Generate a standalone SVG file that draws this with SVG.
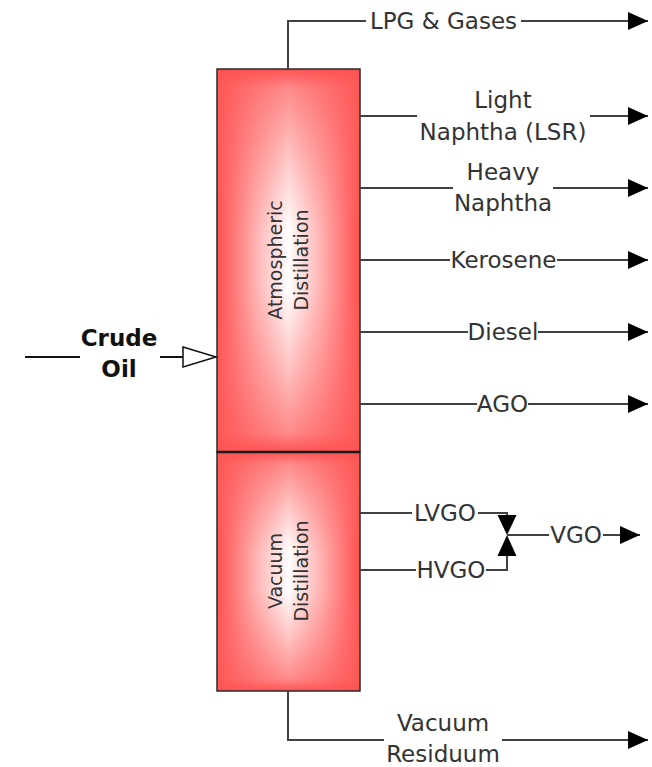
<svg xmlns="http://www.w3.org/2000/svg" width="652" height="767" viewBox="0 0 652 767">
<style>
.lbl{font-family:"DejaVu Sans",Verdana,sans-serif;font-size:23px;fill:#333;text-anchor:middle}
.bold{font-weight:bold;fill:#111}
.rot{font-family:"DejaVu Sans",Verdana,sans-serif;font-size:19px;fill:#333;text-anchor:middle}
.ln{fill:none;stroke:#404040;stroke-width:2}
.box{stroke:#2a2a2a;stroke-width:1.5;fill:none}
</style>
<defs>
<linearGradient id="hg" x1="0" y1="0" x2="1" y2="0">
<stop offset="0" stop-color="#ff5050"/>
<stop offset="0.08" stop-color="#ff6a6a"/>
<stop offset="0.28" stop-color="#ffb4b4"/>
<stop offset="0.5" stop-color="#ffffff"/>
<stop offset="0.72" stop-color="#ffb4b4"/>
<stop offset="0.92" stop-color="#ff6a6a"/>
<stop offset="1" stop-color="#ff5050"/>
</linearGradient>
<linearGradient id="vg" x1="0" y1="0" x2="0" y2="1">
<stop offset="0" stop-color="#ff5252" stop-opacity="1"/>
<stop offset="0.05" stop-color="#ff5a5a" stop-opacity="0.7"/>
<stop offset="0.42" stop-color="#ff6a6a" stop-opacity="0"/>
<stop offset="0.58" stop-color="#ff6a6a" stop-opacity="0"/>
<stop offset="0.95" stop-color="#ff5a5a" stop-opacity="0.7"/>
<stop offset="1" stop-color="#ff5252" stop-opacity="1"/>
</linearGradient>
<marker id="ah" viewBox="0 0 20 18" refX="20" refY="9" markerWidth="20" markerHeight="18" markerUnits="userSpaceOnUse" orient="auto">
<path d="M0,0 L20,9 L0,18 Z" fill="#000"/>
</marker>
</defs>

<g id="atmospheric">
<rect x="217" y="69" width="143" height="383" fill="url(#hg)"/>
<rect x="217" y="69" width="143" height="383" fill="url(#vg)"/>
<rect class="box" x="217" y="69" width="143" height="383"/>
<text class="rot" transform="rotate(-90 288 260)"><tspan x="288" y="254">Atmospheric</tspan><tspan x="288" y="280">Distillation</tspan></text>
</g>
<g id="vacuum">
<rect x="217" y="452" width="143" height="239" fill="url(#hg)"/>
<rect x="217" y="452" width="143" height="239" fill="url(#vg)"/>
<rect class="box" x="217" y="452" width="143" height="239"/>
<text class="rot" transform="rotate(-90 288 571)"><tspan x="288" y="565">Vacuum</tspan><tspan x="288" y="591">Distillation</tspan></text>
</g>
<line x1="217" y1="452" x2="360" y2="452" stroke="#1a1a1a" stroke-width="2.5"/>

<g id="connectors">
<!-- Crude oil -->
<line x1="25" y1="357" x2="80" y2="357" stroke="#111" stroke-width="2"/>
<line x1="160" y1="357" x2="183" y2="357" stroke="#111" stroke-width="2"/>
<path d="M183,347 L216,357 L183,367 Z" fill="#fff" stroke="#111" stroke-width="1.5"/>
<!-- LPG -->
<path class="ln" d="M288,69 V21 H366"/>
<line class="ln" x1="521" y1="21" x2="648" y2="21" marker-end="url(#ah)"/>
<!-- Light naphtha -->
<line class="ln" x1="360" y1="116" x2="417" y2="116"/>
<line class="ln" x1="590" y1="116" x2="648" y2="116" marker-end="url(#ah)"/>
<!-- Heavy naphtha -->
<line class="ln" x1="360" y1="188" x2="453" y2="188"/>
<line class="ln" x1="553" y1="188" x2="648" y2="188" marker-end="url(#ah)"/>
<!-- Kerosene -->
<line class="ln" x1="360" y1="260" x2="450" y2="260"/>
<line class="ln" x1="557" y1="260" x2="648" y2="260" marker-end="url(#ah)"/>
<!-- Diesel -->
<line class="ln" x1="360" y1="332" x2="468" y2="332"/>
<line class="ln" x1="538" y1="332" x2="648" y2="332" marker-end="url(#ah)"/>
<!-- AGO -->
<line class="ln" x1="360" y1="404" x2="477" y2="404"/>
<line class="ln" x1="528" y1="404" x2="648" y2="404" marker-end="url(#ah)"/>
<!-- LVGO / HVGO -->
<line class="ln" x1="360" y1="513" x2="412" y2="513"/>
<path class="ln" d="M478,513 H507 V517"/>
<line class="ln" x1="360" y1="570" x2="416" y2="570"/>
<path class="ln" d="M486,570 H507 V556"/>
<path d="M497.5,515 L516.5,515 L507,535 Z" fill="#000"/>
<path d="M497.5,556 L516.5,556 L507,535 Z" fill="#000"/>
<line class="ln" x1="507" y1="535" x2="549" y2="535"/>
<line class="ln" x1="603" y1="535" x2="640" y2="535" marker-end="url(#ah)"/>
<!-- Vacuum residuum -->
<path class="ln" d="M288,691 V740 H384"/>
<line class="ln" x1="502" y1="740" x2="648" y2="740" marker-end="url(#ah)"/>
</g>

<g id="labels">
<text class="lbl bold" x="119" y="346">Crude</text>
<text class="lbl bold" x="119" y="377">Oil</text>
<text class="lbl" x="443.5" y="29">LPG &amp; Gases</text>
<text class="lbl" x="503" y="108">Light</text>
<text class="lbl" x="503" y="140">Naphtha (LSR)</text>
<text class="lbl" x="503" y="180">Heavy</text>
<text class="lbl" x="503" y="211">Naphtha</text>
<text class="lbl" x="503.5" y="268">Kerosene</text>
<text class="lbl" x="503" y="340">Diesel</text>
<text class="lbl" x="502.5" y="412">AGO</text>
<text class="lbl" x="445" y="521">LVGO</text>
<text class="lbl" x="451" y="578">HVGO</text>
<text class="lbl" x="576" y="543">VGO</text>
<text class="lbl" x="443" y="731">Vacuum</text>
<text class="lbl" x="443" y="762">Residuum</text>
</g>
</svg>
